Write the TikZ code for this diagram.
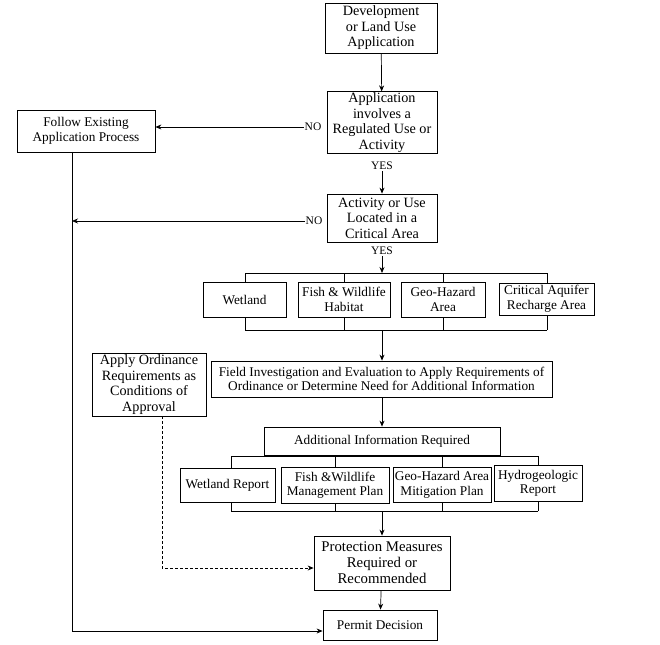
\documentclass[tikz,border=0pt]{standalone}
\usepackage{fontspec}
\setmainfont{Liberation Serif}
\usetikzlibrary{arrows.meta}
\tikzset{
  box/.style={draw, line width=0.8pt, align=center, inner sep=1pt},
  bigf/.style={font=\fontsize{14.2}{15.5}\selectfont},
  protf/.style={font=\fontsize{14.8}{16}\selectfont},
  midf/.style={font=\fontsize{13.3}{14.5}\selectfont},
  smallf/.style={font=\fontsize{13.3}{14.5}\selectfont},
  lbl/.style={font=\fontsize{11.5}{12}\selectfont, inner sep=1pt},
  ln/.style={line width=0.7pt},
  arr/.style={line width=0.7pt, -{Stealth[length=6pt,width=5pt]}},
  darr/.style={line width=0.7pt, densely dashed, -{Stealth[length=6pt,width=5pt]}}
}
\begin{document}
\begin{tikzpicture}[x=1pt,y=-1pt]
\useasboundingbox (0,0) rectangle (660,644);
% main column
\node[box,bigf,minimum width=112pt,minimum height=50pt] (dev) at (381,28) {Development\\or Land Use\\Application};
\node[box,bigf,minimum width=110pt,minimum height=59pt] (app) at (382,122.5) {Application\\involves a\\Regulated Use or\\Activity};
\node[box,smallf,minimum width=138pt,minimum height=42pt] (follow) at (86,131) {Follow Existing\\Application Process};
\node[box,bigf,minimum width=110pt,minimum height=48pt] (act) at (382,218) {Activity or Use\\Located in a\\Critical Area};
\node[lbl] (no1) at (313,127) {NO};
\node[lbl] (no2) at (314,221) {NO};
\node[lbl] (yes1) at (382,166) {YES};
\node[lbl] (yes2) at (382,251) {YES};
% critical areas
\node[box,midf,minimum width=83pt,minimum height=35pt] (wet) at (244.5,299.5) {Wetland};
\node[box,midf,minimum width=92pt,minimum height=35pt] (fish) at (344,299.5) {Fish \& Wildlife\\Habitat};
\node[box,midf,minimum width=84pt,minimum height=35pt] (geo) at (443,299.5) {Geo-Hazard\\Area};
\node[box,smallf,minimum width=95pt,minimum height=32pt] (crit) at (546.5,299) {Critical Aquifer\\Recharge Area};
% field & apply
\node[box,smallf,minimum width=341pt,minimum height=36pt] (field) at (381.5,379) {Field Investigation and Evaluation to Apply Requirements of\\Ordinance or Determine Need for Additional Information};
\node[box,bigf,minimum width=114pt,minimum height=63pt] (apply) at (149,384.5) {Apply Ordinance\\Requirements as\\Conditions of\\Approval};
% additional info
\node[box,midf,minimum width=236pt,minimum height=28pt] (add) at (382,441) {Additional Information Required};
\node[box,smallf,minimum width=95pt,minimum height=34pt] (wr) at (227.5,485) {Wetland Report};
\node[box,smallf,minimum width=108pt,minimum height=36pt] (fm) at (335,485) {Fish \&Wildlife\\Management Plan};
\node[box,smallf,minimum width=98pt,minimum height=35pt] (gm) at (442,485) {Geo-Hazard Area\\Mitigation Plan};
\node[box,smallf,minimum width=88pt,minimum height=36pt] (hy) at (538,483.5) {Hydrogeologic\\Report};
% bottom
\node[box,protf,minimum width=136pt,minimum height=54pt] (prot) at (382,563) {Protection Measures\\Required or\\Recommended};
\node[box,midf,minimum width=114pt,minimum height=30pt] (permit) at (380,625) {Permit Decision};
% coordinates
\coordinate (b1l) at (245,273); \coordinate (b1r) at (547,273); \coordinate (b1m) at (382,273);
\coordinate (b2l) at (245,330); \coordinate (b2r) at (547,330); \coordinate (b2m) at (382,330);
\coordinate (c1l) at (231,456); \coordinate (c1r) at (538,456);
\coordinate (c2l) at (231,511); \coordinate (c2r) at (538,511); \coordinate (c2m) at (382,511);
\coordinate (lt) at (72,152); \coordinate (lb) at (72,631); \coordinate (lm) at (72,221);
\coordinate (dt) at (162,416); \coordinate (db) at (162,568);
% connectors
\draw[arr] (dev) -- (app);
\draw[arr] (no1.west) -- (follow.east |- no1.west);
\draw[arr] (yes1.south) -- (act.north);
\draw[arr] (no2.west) -- (lm);
\draw[arr] (yes2.south) -- (b1m);
\draw[ln] (b1l) -- (b1r);
\draw[ln] (b1l) -- (b1l |- wet.north);
\draw[ln] (fish.north |- b1l) -- (fish.north);
\draw[ln] (geo.north |- b1l) -- (geo.north);
\draw[ln] (b1r) -- (b1r |- crit.north);
\draw[ln] (b2l) -- (b2r);
\draw[ln] (b2l) -- (b2l |- wet.south);
\draw[ln] (fish.south |- b2l) -- (fish.south);
\draw[ln] (geo.south |- b2l) -- (geo.south);
\draw[ln] (b2r) -- (b2r |- crit.south);
\draw[arr] (b2m) -- (b2m |- field.north);
\draw[arr] (b2m |- field.south) -- (b2m |- add.north);
\draw[ln] (c1l) -- (c1r);
\draw[ln] (c1l) -- (c1l |- wr.north);
\draw[ln] (fm.north |- c1l) -- (fm.north);
\draw[ln] (gm.north |- c1l) -- (gm.north);
\draw[ln] (c1r) -- (c1r |- hy.north);
\draw[ln] (c2l) -- (c2r);
\draw[ln] (c2l) -- (c2l |- wr.south);
\draw[ln] (fm.south |- c2l) -- (fm.south);
\draw[ln] (gm.south |- c2l) -- (gm.south);
\draw[ln] (c2r) -- (c2r |- hy.south);
\draw[arr] (c2m) -- (prot.north);
\draw[arr] (prot) -- (permit);
\draw[ln] (lt) -- (lb);
\draw[arr] (lb) -- (lb -| permit.west);
\draw[darr] (dt) -- (db) -- (db -| prot.west);
\end{tikzpicture}
\end{document}
